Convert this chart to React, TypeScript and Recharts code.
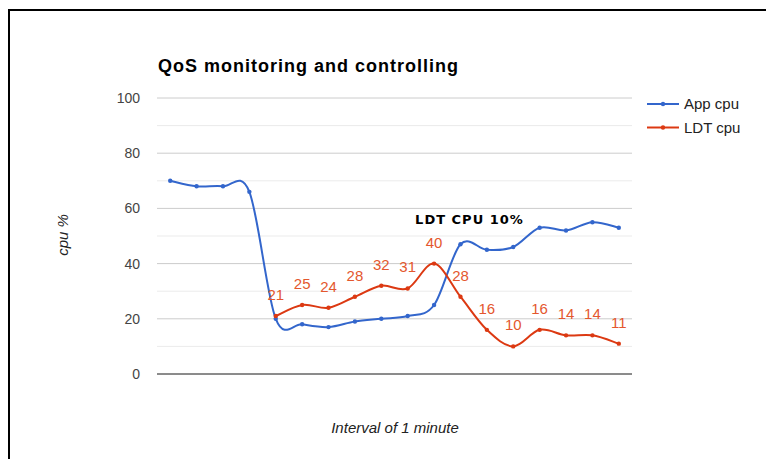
import React from 'react';
import { LineChart, Line, XAxis, YAxis, CartesianGrid, ReferenceLine, ReferenceDot, LabelList } from 'recharts';

const minutes = ['1', '2', '3', '4', '5', '6', '7', '8', '9', '10', '11', '12', '13', '14', '15', '16', '17', '18'];
const appCpu = [70, 68, 68, 66, 20, 18, 17, 19, 20, 21, 25, 47, 45, 46, 53, 52, 55, 53];
const ldtCpu = [null, null, null, null, 21, 25, 24, 28, 32, 31, 40, 28, 16, 10, 16, 14, 14, 11];
const yTicks = [0, 20, 40, 60, 80, 100];
const yMinorTicks = [10, 30, 50, 70, 90];
const seriesNames = ['App cpu', 'LDT cpu'];
const seriesKeys = ['app', 'ldt'];
const seriesColors = ['#3366cc', '#dc3912'];
const annotationMinute = '12';
const annotationValue = 56;
const annotationText = 'LDT CPU 10%';
const chartTitle = 'QoS monitoring and controlling';
const xTitle = 'Interval of 1 minute';
const yTitle = 'cpu %';

const data = minutes.map((m, i) => ({ minute: m, app: appCpu[i], ldt: ldtCpu[i] }));

// Catmull-Rom style smoothing (like Google "function" curves)
const smoothCurve = (context: any) => {
  let pts: number[][] = [];
  return {
    areaStart() {},
    areaEnd() {},
    lineStart() {
      pts = [];
    },
    point(x: number, y: number) {
      pts.push([+x, +y]);
    },
    lineEnd() {
      const n = pts.length;
      if (!n) return;
      context.moveTo(pts[0][0], pts[0][1]);
      if (n === 1) return;
      for (let i = 0; i < n - 1; i++) {
        const p0 = pts[i - 1] || pts[i];
        const p1 = pts[i];
        const p2 = pts[i + 1];
        const p3 = pts[i + 2] || pts[i + 1];
        const c1x = p1[0] + (p2[0] - p0[0]) / 6;
        const c1y = p1[1] + (p2[1] - p0[1]) / 6;
        const c2x = p2[0] - (p3[0] - p1[0]) / 6;
        const c2y = p2[1] - (p3[1] - p1[1]) / 6;
        context.bezierCurveTo(c1x, c1y, c2x, c2y, p2[0], p2[1]);
      }
    },
  };
};

const FONT = 'Arial, "Liberation Sans", sans-serif';

export default function App() {
  return (
    <div style={{ position: 'absolute', left: 0, top: 0, width: 766, height: 459, background: '#fff', overflow: 'hidden' }}>
      <div
        style={{
          position: 'absolute',
          left: 8,
          top: 9,
          width: 800,
          height: 500,
          borderTop: '2px solid #000',
          borderLeft: '2px solid #000',
        }}
      />
      <div style={{ position: 'absolute', left: 0, top: 0 }}>
        <LineChart width={766} height={459} data={data} margin={{ top: 98, right: 134, bottom: 0, left: 0 }}>
          <CartesianGrid vertical={false} stroke="#cccccc" />
          {yMinorTicks.map((v) => (
            <ReferenceLine key={v} y={v} stroke="#ebebeb" />
          ))}
          <XAxis
            dataKey="minute"
            type="category"
            tick={false}
            tickLine={false}
            axisLine={{ stroke: '#333' }}
            height={85}
            padding={{ left: 13.2, right: 13.2 }}
          />
          <YAxis
            domain={[0, 100]}
            ticks={yTicks}
            width={157}
            axisLine={false}
            tickLine={false}
            tickMargin={11}
            tick={{ fill: '#444', fontSize: 14, fontFamily: FONT }}
          />
          <Line
            dataKey={seriesKeys[0]}
            name={seriesNames[0]}
            type={smoothCurve as any}
            stroke={seriesColors[0]}
            strokeWidth={2}
            dot={{ r: 2.2, fill: seriesColors[0], stroke: seriesColors[0], strokeWidth: 0 }}
            isAnimationActive={false}
          />
          <Line
            dataKey={seriesKeys[1]}
            name={seriesNames[1]}
            type={smoothCurve as any}
            stroke={seriesColors[1]}
            strokeWidth={2}
            dot={{ r: 2.2, fill: seriesColors[1], stroke: seriesColors[1], strokeWidth: 0 }}
            isAnimationActive={false}
          >
            <LabelList dataKey={seriesKeys[1]} position="top" offset={16} fill="#e4572e" fontSize={15} fontFamily={FONT} />
          </Line>
          <ReferenceDot
            x={annotationMinute}
            y={annotationValue}
            r={0}
            fill="none"
            stroke="none"
            label={{
              value: annotationText,
              position: 'center',
              dx: 9,
              fill: '#000',
              fontSize: 13,
              fontWeight: 'bold',
              fontFamily: '"DejaVu Sans", sans-serif',
              letterSpacing: 1,
            }}
          />
        </LineChart>
      </div>
      <svg width={766} height={459} style={{ position: 'absolute', left: 0, top: 0, pointerEvents: 'none' }}>
        <text x={158} y={72} fontFamily={FONT} fontWeight="bold" fontSize={18} letterSpacing={1} fill="#000">
          {chartTitle}
        </text>
        <text
          x={68}
          y={235}
          transform="rotate(-90 68 235)"
          textAnchor="middle"
          fontFamily={FONT}
          fontStyle="italic"
          fontSize={15}
          fill="#222"
        >
          {yTitle}
        </text>
        <text x={395} y={433} textAnchor="middle" fontFamily={FONT} fontStyle="italic" fontSize={15} fill="#222">
          {xTitle}
        </text>
        {seriesNames.map((name, i) => {
          const y = 104 + i * 23.5;
          return (
            <g key={name}>
              <line x1={647} x2={679} y1={y} y2={y} stroke={seriesColors[i]} strokeWidth={2} />
              <circle cx={663} cy={y} r={2.2} fill={seriesColors[i]} />
              <text x={684} y={y + 5} fontFamily={FONT} fontSize={15} fill="#222">
                {name}
              </text>
            </g>
          );
        })}
      </svg>
    </div>
  );
}
